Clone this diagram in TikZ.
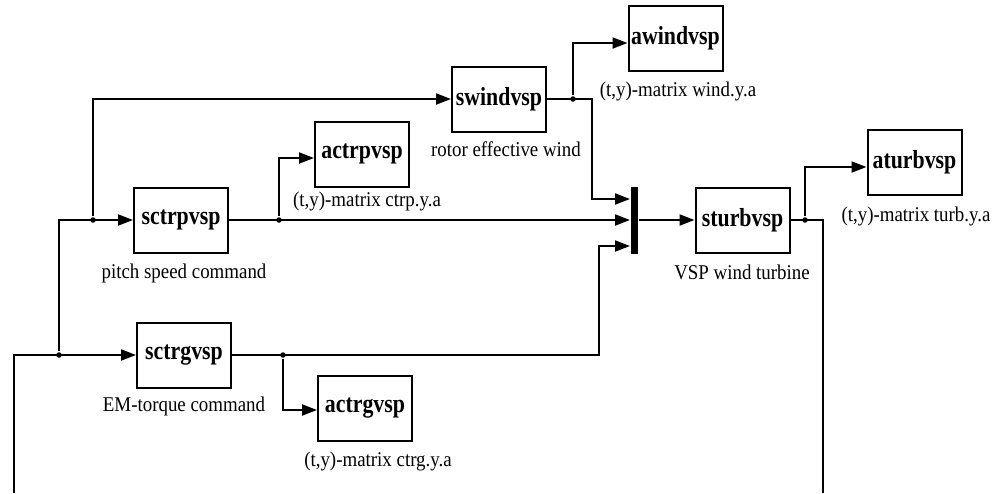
\documentclass[tikz,border=0pt]{standalone}
\usepackage{fontspec}
\setmainfont{Liberation Serif}[FakeStretch=0.9]
\newfontfamily\blockfont{Liberation Serif}[FakeStretch=0.84]
\usetikzlibrary{arrows.meta,positioning,calc}

\begin{document}
\begin{tikzpicture}[
  x=1pt,y=-1pt,line width=2pt,
  block/.style={draw,minimum width=94pt,minimum height=65pt,inner sep=0pt,
    font=\blockfont\fontsize{26}{30}\selectfont\bfseries},
  note/.style={inner sep=0pt,font=\fontsize{21}{24}\selectfont},
  junc/.style={circle,fill,inner sep=0pt,minimum size=5.5pt},
  busbar/.style={fill,inner sep=0pt,minimum width=7pt,minimum height=67pt},
  flow/.style={-{Triangle[length=15pt,width=11pt]}},
]
  \useasboundingbox (0,0) rectangle (1002,493);

  % Blocks
  \node[block] (sctrp) at (181,220) {sctrpvsp};
  \node[block] (actrp) at (362,154) {actrpvsp};
  \node[block] (swind) at (499,99) {swindvsp};
  \node[block] (awind) at (675.5,38.5) {awindvsp};
  \node[block] (sturb) at (742.5,220) {sturbvsp};
  \node[block] (aturb) at (914.5,162) {aturbvsp};
  \node[block] (sctrg) at (184,355) {sctrgvsp};
  \node[block] (actrg) at (365,408) {actrgvsp};
  \node[busbar] (bar) at (634.5,220) {};

  % Captions
  \node[note] (lsctrp) at (184,273) {pitch speed command};
  \node[note] (lactrp) at (367,201) {(t,y)-matrix ctrp.y.a};
  \node[note] (lswind) at (506,149) {rotor effective wind};
  \node[note] (lawind) at (678,91) {(t,y)-matrix wind.y.a};
  \node[note] (lsturb) at (742,272) {VSP wind turbine};
  \node[note] (laturb) at (916,216) {(t,y)-matrix turb.y.a};
  \node[note] (lsctrg) at (184,406) {EM-torque command};
  \node[note] (lactrg) at (378,461) {(t,y)-matrix ctrg.y.a};

  % Branch points
  \node[junc] (jg) at (59,355) {};
  \node[junc] (jp) at (93,220) {};
  \node[junc] (jcp) at (279,220) {};
  \node[junc] (jcg) at (283,355) {};
  \node[junc] (jw) at (573,99) {};
  \node[junc] (jt) at (805,220) {};
  \coordinate (fbL) at (14,493);
  \coordinate (fbR) at (823,493);

  % Feedback from the turbine
  \draw (sturb.east) -| (fbR);
  \draw[flow] (fbL) |- (sctrg.west);
  \draw[flow] (jg) |- (sctrp.west);
  \draw[flow] (jp) |- (swind.west);

  % Signals into the bus
  \draw[flow] (swind.east) -- ++(45,0) |- ([yshift=21pt]bar.west);
  \draw[flow] (sctrp.east) -- (bar.west);
  \draw[flow] (sctrg.east) -- ++(367,0) |- ([yshift=-26pt]bar.west);
  \draw[flow] (bar.east) -- (sturb.west);

  % Recorded outputs
  \draw[flow] (jcp) |- ([yshift=-4pt]actrp.west);
  \draw[flow] (jcg) |- ([yshift=-2pt]actrg.west);
  \draw[flow] (jw) |- ([yshift=-4.5pt]awind.west);
  \draw[flow] (jt) |- ([yshift=-5pt]aturb.west);
\end{tikzpicture}
\end{document}
